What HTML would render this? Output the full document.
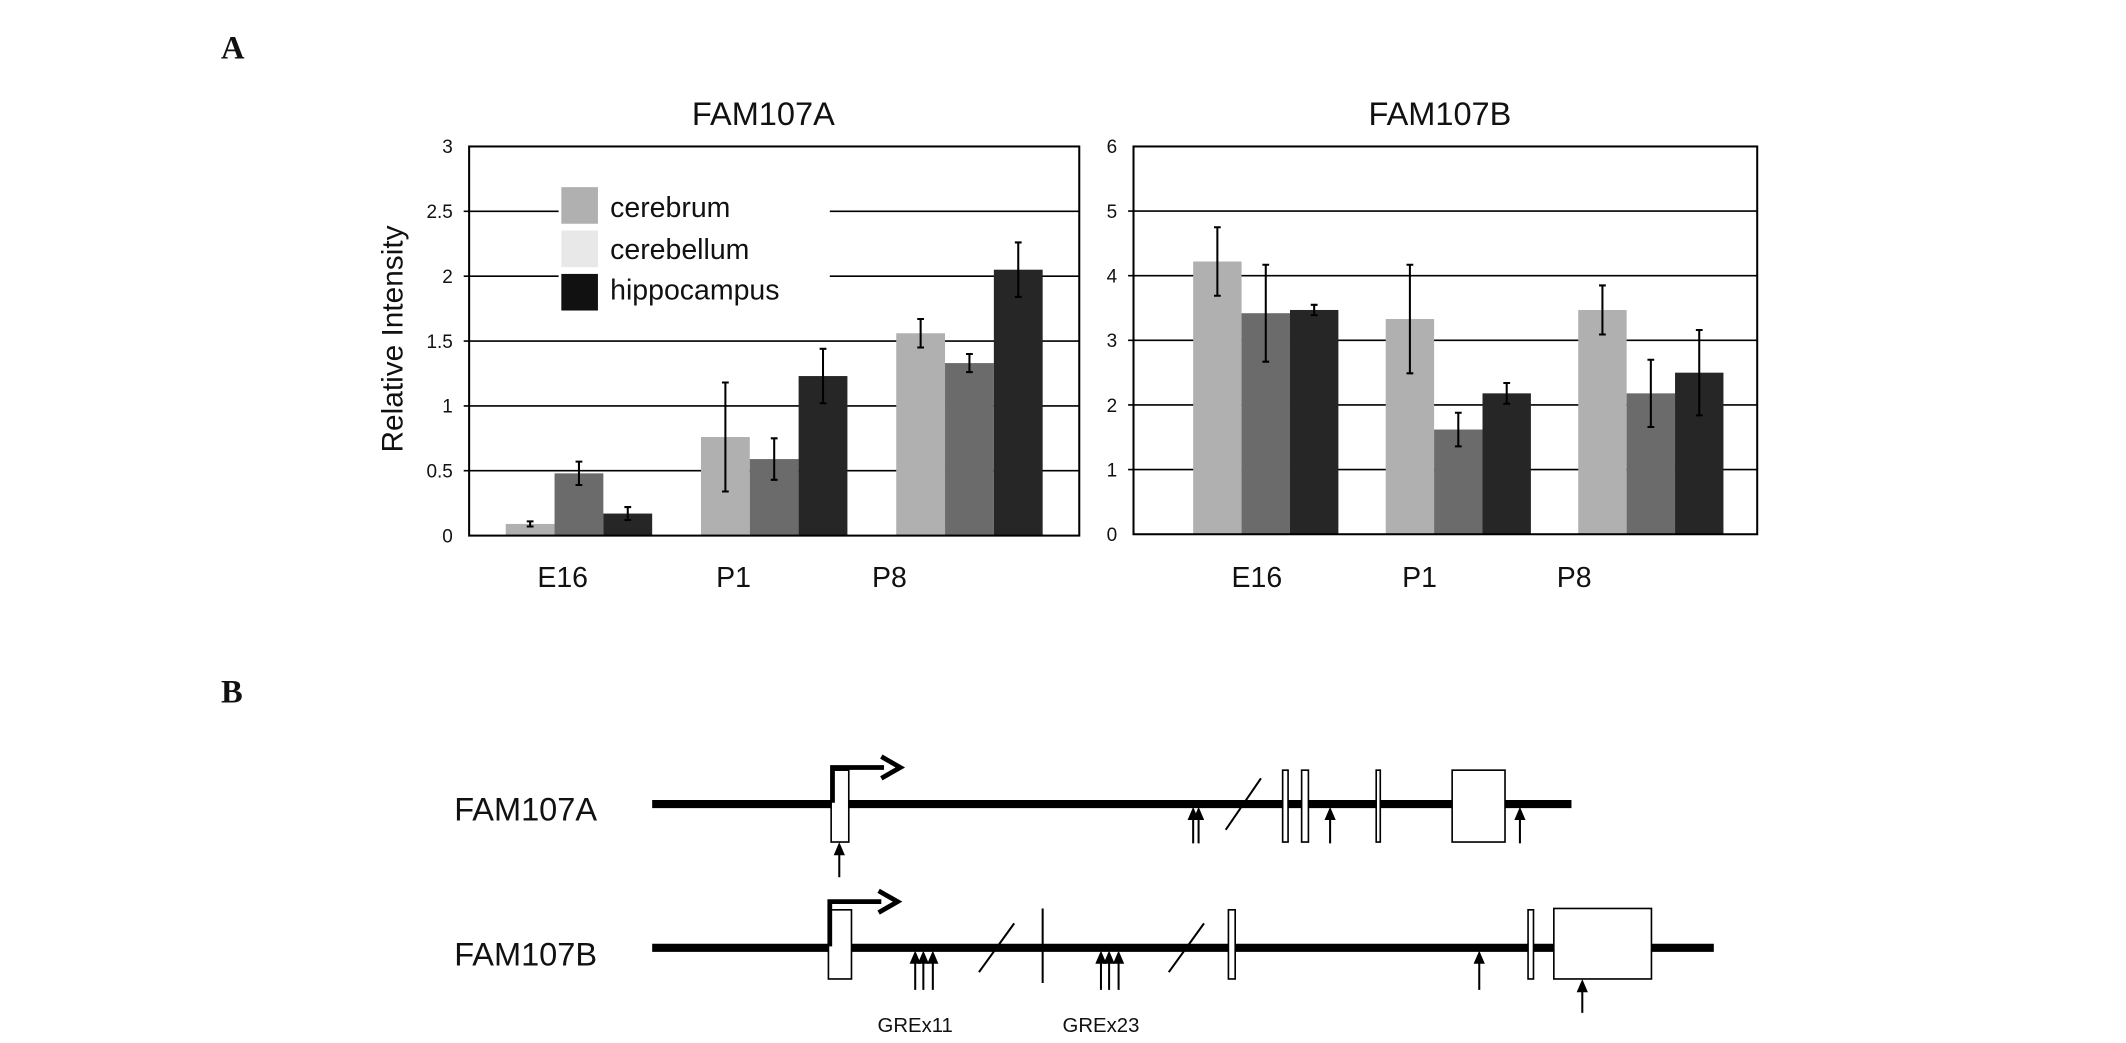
<!DOCTYPE html>
<html><head><meta charset="utf-8"><style>
html,body{margin:0;padding:0;background:#fff;}
svg{display:block;}
text{font-family:"Liberation Sans",sans-serif;fill:#111;}
</style></head><body>
<svg id="fig" width="2126" height="1043" viewBox="0 0 1568 769.2" xmlns="http://www.w3.org/2000/svg">
<text x="163" y="43" style="font-family:'Liberation Serif',serif;font-weight:bold;font-size:24px">A</text>
<text x="163" y="518" style="font-family:'Liberation Serif',serif;font-weight:bold;font-size:24px">B</text>
<g id="chartA"></g>
<g id="chartB"></g>
<g id="legend">
<rect x="412" y="134" width="200" height="99" fill="#fff"/>
<rect x="414" y="138" width="27" height="27" fill="#b0b0b0"/>
<text x="450" y="160" font-size="21">cerebrum</text>
<rect x="414" y="170" width="27" height="27" fill="#e8e8e8"/>
<text x="450" y="191" font-size="21">cerebellum</text>
<rect x="414" y="202" width="27" height="27" fill="#111"/>
<text x="450" y="221" font-size="21">hippocampus</text>
</g>
<text transform="translate(297,250) rotate(-90)" text-anchor="middle" font-size="22">Relative Intensity</text>

<g id="diagram" stroke="#000" fill="none">
<text x="335" y="605" font-size="24" stroke="none" fill="#111">FAM107A</text>
<text x="335" y="712" font-size="24" stroke="none" fill="#111">FAM107B</text>
<line x1="481" y1="593" x2="1159" y2="593" stroke-width="6"/>
<line x1="481" y1="699" x2="1264" y2="699" stroke-width="6"/>
<g stroke-width="1.2" fill="#fff">
<rect x="613" y="568" width="13" height="53"/><rect x="946" y="568" width="4" height="53"/><rect x="960" y="568" width="5" height="53"/><rect x="1015" y="568" width="3" height="53"/><rect x="1071" y="568" width="39" height="53"/>
</g>
<g stroke-width="1.2" fill="#fff">
<rect x="611" y="671" width="17" height="51"/><rect x="906" y="671" width="5" height="51"/><rect x="1127" y="671" width="4" height="51"/><rect x="1146" y="670" width="72" height="52"/>
</g>
<polyline points="614,592 614,566 652,566" stroke-width="3.5"/>
<polyline points="650,558 664,566 650,574" stroke-width="3.5"/>
<polyline points="612,698 612,665 650,665" stroke-width="3.5"/>
<polyline points="648,657 662,665 648,673" stroke-width="3.5"/>
<line x1="904" y1="612" x2="930" y2="574" stroke-width="1.5"/>
<line x1="722" y1="717" x2="748" y2="681" stroke-width="1.5"/>
<line x1="862" y1="717" x2="888" y2="681" stroke-width="1.5"/>
<line x1="769" y1="670" x2="769" y2="725" stroke-width="1.5"/>
<g id="gre"></g>
<text x="675" y="761" font-size="15" text-anchor="middle" stroke="none" fill="#111">GREx11</text>
<text x="812" y="761" font-size="15" text-anchor="middle" stroke="none" fill="#111">GREx23</text>
</g>
</svg>
<script>
const categories = ["E16","P1","P8"];
const seriesNames = ["cerebrum","cerebellum","hippocampus"];
const aCerebrum = [0.09,0.76,1.56];
const aCerebrumErr = [0.02,0.42,0.11];
const aCerebellum = [0.48,0.59,1.33];
const aCerebellumErr = [0.09,0.16,0.07];
const aHippocampus = [0.17,1.23,2.05];
const aHippocampusErr = [0.05,0.21,0.21];
const aTicks = ["0","0.5","1","1.5","2","2.5","3"];
const bCerebrum = [4.22,3.33,3.47];
const bCerebrumErr = [0.53,0.84,0.38];
const bCerebellum = [3.42,1.62,2.18];
const bCerebellumErr = [0.75,0.26,0.52];
const bHippocampus = [3.47,2.18,2.5];
const bHippocampusErr = [0.08,0.16,0.66];
const bTicks = ["0","1","2","3","4","5","6"];

const NS="http://www.w3.org/2000/svg";
function mk(tag,attrs,parent){const e=document.createElementNS(NS,tag);for(const k in attrs)e.setAttribute(k,attrs[k]);parent.appendChild(e);return e;}
const colors=["#b0b0b0","#6b6b6b","#262626"];

function drawChart(g,cfg){
  const y=v=>cfg.bottom-(v/cfg.max)*(cfg.bottom-cfg.top);
  const x=(ci,si)=>cfg.first+ci*cfg.gstep+si*cfg.bw;
  cfg.ticks.forEach(t=>{
    const v=parseFloat(t);
    if(v>0&&v<cfg.max){
      const l=mk('line',{x1:cfg.left-4,x2:cfg.right,y1:y(v),y2:y(v),stroke:'#000','stroke-width':1.2},g);
      
      
    }
    const tx=mk('text',{x:cfg.left-12,y:y(v)+5,'font-size':14,'text-anchor':'end'},g);
    tx.textContent=t;
    
    
  });
  const ti=mk('text',{x:cfg.tx,y:92,'font-size':24,'text-anchor':'middle'},g);
  ti.textContent=cfg.title;
  
  
  cfg.series.forEach((s,si)=>{
    s.forEach((v,ci)=>{
      const r=mk('rect',{x:x(ci,si),y:y(v),width:cfg.bw,height:cfg.bottom-y(v),fill:colors[si]},g);
      
      
      const e=cfg.errs[si][ci], cx=x(ci,si)+cfg.bw/2;
      const eg=mk('path',{d:`M${cx},${y(v+e)}V${y(v-e)}M${cx-2.5},${y(v+e)}H${cx+2.5}M${cx-2.5},${y(v-e)}H${cx+2.5}`,stroke:'#000','stroke-width':1.5,fill:'none'},g);
      
      
    });
  });
  const fr=mk('rect',{x:cfg.left,y:cfg.top,width:cfg.right-cfg.left,height:cfg.bottom-cfg.top,fill:'none',stroke:'#000','stroke-width':1.5},g);
  
  
  categories.forEach((c,ci)=>{
    const t=mk('text',{x:cfg.labelX[ci],y:433,'font-size':21,'text-anchor':'middle'},g);
    t.textContent=c;
    
    
  });
}
drawChart(document.getElementById('chartA'),{left:346,right:796,top:108,bottom:395,max:3,first:373,gstep:144,bw:36,ticks:aTicks,title:"FAM107A",tx:563,
  series:[aCerebrum,aCerebellum,aHippocampus],errs:[aCerebrumErr,aCerebellumErr,aHippocampusErr],labelX:[415,541,656]});
drawChart(document.getElementById('chartB'),{left:836,right:1296,top:108,bottom:394,max:6,first:880,gstep:142,bw:35.7,ticks:bTicks,title:"FAM107B",tx:1062,
  series:[bCerebrum,bCerebellum,bHippocampus],errs:[bCerebrumErr,bCerebellumErr,bHippocampusErr],labelX:[927,1047,1161]});
// bring legend above chart A
const svg=document.getElementById('fig');
svg.insertBefore(document.getElementById('chartA'),document.getElementById('legend'));
svg.insertBefore(document.getElementById('chartB'),document.getElementById('legend'));

const gre=document.getElementById('gre');
[[619,647,623],[880,622,597],[884,622,597],[981,622,597],[1121,622,597],
 [675,730,703],[681,730,703],[688,730,703],[812,730,703],[818,730,703],[825,730,703],[1091,730,703],[1167,747,724]].forEach(a=>{
  const p=mk('path',{d:`M${a[0]},${a[1]}V${a[2]}M${a[0]-3},${a[2]+7}L${a[0]},${a[2]}L${a[0]+3},${a[2]+7}Z`,stroke:'#000','stroke-width':1.5,fill:'#000'},gre);
  
  
});
</script>
</body></html>
